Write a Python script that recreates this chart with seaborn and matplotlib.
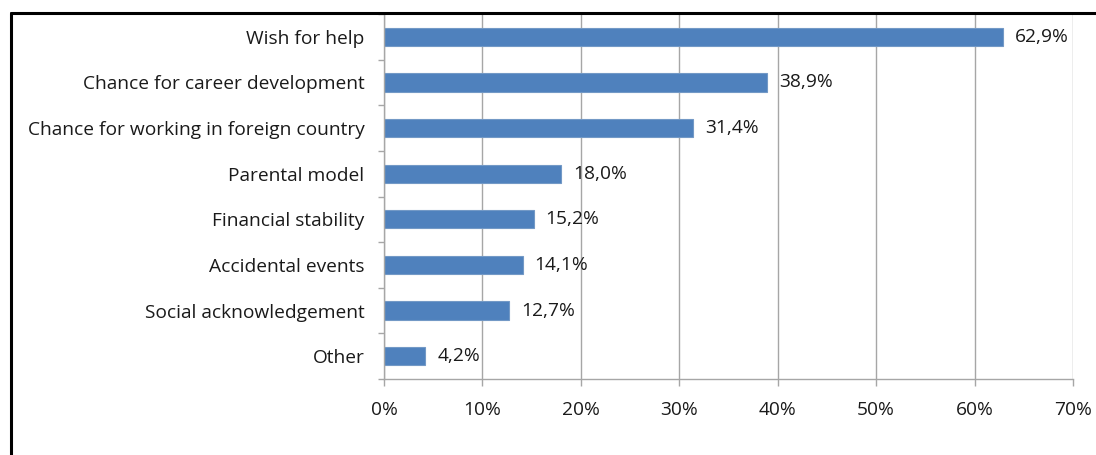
import matplotlib
matplotlib.use("Agg")
import matplotlib.pyplot as plt
from matplotlib.lines import Line2D
from matplotlib.ticker import FixedLocator
import seaborn as sns
import pandas as pd

categories = [
    "Wish for help",
    "Chance for career development",
    "Chance for working in foreign country",
    "Parental model",
    "Financial stability",
    "Accidental events",
    "Social acknowledgement",
    "Other",
]
values = [62.9, 38.9, 31.4, 18.0, 15.2, 14.1, 12.7, 4.2]
x_ticks = [0, 10, 20, 30, 40, 50, 60, 70]

df = pd.DataFrame({"reason": categories, "share": values})

sns.set_theme(style="white")
plt.rcParams["font.family"] = ["Open Sans", "DejaVu Sans"]

fig = plt.figure(figsize=(10.96, 4.55), dpi=100)
ax = fig.add_axes([384 / 1096, 1 - 379 / 455, (1073 - 384) / 1096, (379 - 14) / 455])

bar_color = "#4F81BD"
sns.barplot(data=df, y="reason", x="share", orient="h", color=bar_color,
            width=0.4, saturation=1, edgecolor="#7399C6", linewidth=0.8, ax=ax)

ax.set_xlim(0, 70)
ax.set_ylim(len(categories) - 0.5, -0.5)
ax.set_xlabel("")
ax.set_ylabel("")

fs = 13.8
txt_c = "#1a1a1a"
grid_c = "#A6A6A6"
ax.xaxis.set_major_locator(FixedLocator(x_ticks))
ax.set_xticklabels([f"{t}%" for t in x_ticks])
ax.xaxis.grid(True, color=grid_c, linewidth=1.0)
ax.set_axisbelow(True)

for s in ["top", "right"]:
    ax.spines[s].set_visible(False)
for s in ["left", "bottom"]:
    ax.spines[s].set_color(grid_c)
    ax.spines[s].set_linewidth(1.0)

# category labels sit between boundary tick marks
ax.set_yticks(range(len(categories)))
ax.set_yticklabels(categories)
ax.tick_params(axis="y", length=0, pad=14, labelsize=fs, colors=txt_c)
ax.set_yticks([i + 0.5 for i in range(-1, len(categories))], minor=True)
ax.tick_params(axis="y", which="minor", length=4, width=1, color=grid_c, left=True)
ax.tick_params(axis="x", length=5, width=1, color=grid_c, bottom=True,
               pad=11, labelsize=fs, labelcolor=txt_c)

for i, v in enumerate(values):
    ax.text(v + 1.2, i, f"{v:.1f}%".replace(".", ","), va="center", ha="left",
            fontsize=fs, color=txt_c)

# outer frame of the chart area (top and left edges)
fig.add_artist(Line2D([11 / 1096, 1], [1 - 13 / 455, 1 - 13 / 455],
                      transform=fig.transFigure, color="black", linewidth=2.2))
fig.add_artist(Line2D([11 / 1096, 11 / 1096], [0, 1 - 13 / 455],
                      transform=fig.transFigure, color="black", linewidth=2.2))

fig.savefig("out.png", dpi=100, facecolor="white")
